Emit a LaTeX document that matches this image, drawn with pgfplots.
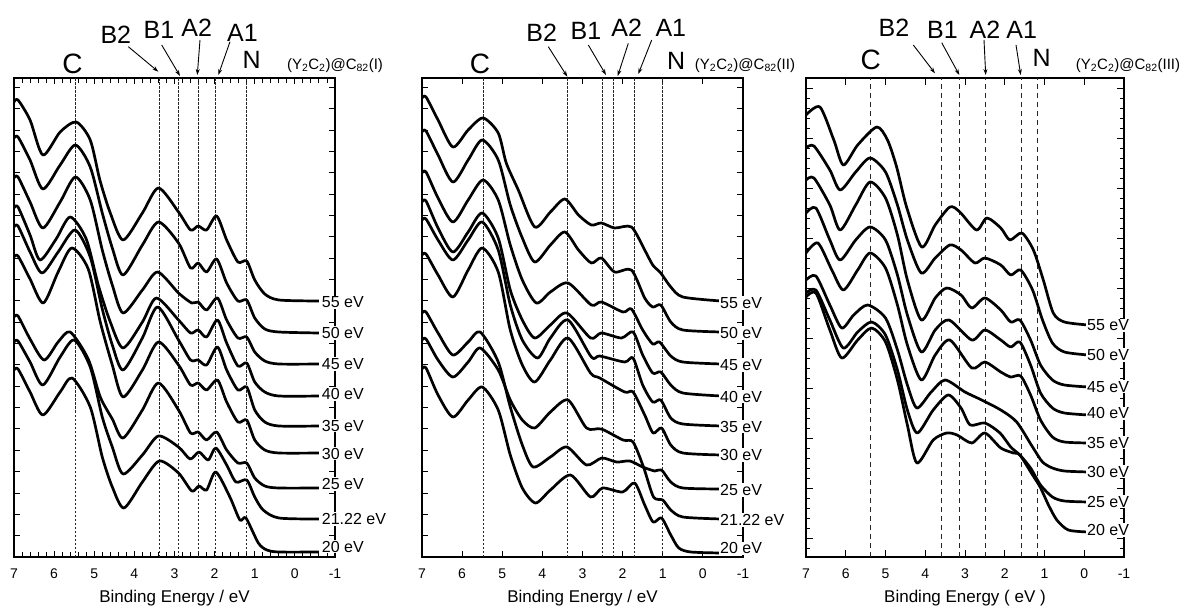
\documentclass[border=0pt]{standalone}
\usepackage{fontspec}
\setmainfont{Liberation Sans}
\usepackage{pgfplots}
\pgfplotsset{compat=1.18}
\usetikzlibrary{arrows.meta}

% y = intensity in arbitrary units (curves offset), x = binding energy in eV
\pgfplotsset{
  pes/.style={
    scale only axis, width=321pt, height=479pt, anchor=south west,
    xmin=-1, xmax=7, x dir=reverse, ymin=0, ymax=479,
    xtick={-1,0,...,7}, xticklabels={-1,0,1,2,3,4,5,6,7},
    yticklabels={},
    tick align=inside,
    major tick length=6pt, minor tick length=5pt,
    tick style={black, line width=0.9pt},
    axis line style={line width=1.5pt},
    xticklabel style={font=\fontsize{14}{14}\selectfont, anchor=base, yshift=-21pt},
    xlabel style={font=\fontsize{17}{17}\selectfont, at={(axis description cs:0.5,-0.096)}, anchor=base},
  },
  spec/.style={black, line width=2.7pt, smooth, tension=0.45, line join=round},
  vref/.style={black!85, line width=0.8pt, dash pattern=on 2.5pt off 1.5pt},
  vref3/.style={black!85, line width=1pt, dash pattern=on 5pt off 4pt},
}
\tikzset{
  elab/.style={anchor=west, fill=white, inner sep=1pt, font=\fontsize{16}{16}\selectfont},
  pk/.style={anchor=base, inner sep=0pt, font=\fontsize{25}{25}\selectfont},
  pkc/.style={anchor=base, inner sep=0pt, font=\fontsize{28}{28}\selectfont},
  pkn/.style={anchor=base, inner sep=0pt, font=\fontsize{25}{25}\selectfont},
  cmp/.style={anchor=base, inner sep=0pt, font=\fontsize{15}{15}\selectfont},
  arr/.style={line width=0.9pt, -{Stealth[length=6pt,width=4pt]}},
}

\begin{document}
\begin{tikzpicture}
\path[use as bounding box] (0pt,0pt) rectangle (1185pt,608pt);

% ---------------- panel I ----------------
\begin{axis}[pes, at={(14pt,51pt)}, minor x tick num=4,
  ytick={0,21.35,...,479}, xlabel={Binding Energy / eV}]
\pgfplotsinvokeforeach{5.48,3.38,2.9,2.4,1.97,1.2}{\addplot[vref] coordinates {(#1,0) (#1,479)};}
% 55 eV
\addplot[spec] coordinates {(7.0,455) (6.9,457) (6.6,437) (6.28,402) (5.85,425) (5.45,435) (5.1,417) (4.86,377) (4.6,344) (4.28,317) (3.8,344) (3.4,369) (2.9,345) (2.6,327) (2.41,331) (2.2,327) (1.95,341) (1.7,317) (1.42,295) (1.2,296) (1.0,277) (0.75,263) (0.4,257) (-0.6,256)};
% 50 eV
\addplot[spec] coordinates {(7.0,419) (6.9,420) (6.6,397) (6.28,368) (5.85,392) (5.47,412) (5.1,390) (4.8,344) (4.55,309) (4.28,282) (3.8,312) (3.4,335) (2.9,314) (2.6,289) (2.41,294) (2.2,285) (1.95,298) (1.7,274) (1.42,256) (1.2,257) (1.0,239) (0.75,228) (0.4,225) (-0.6,224)};
% 45 eV
\addplot[spec] coordinates {(7.0,379) (6.9,380) (6.6,355) (6.28,329) (5.85,355) (5.47,380) (5.1,357) (4.8,307) (4.55,272) (4.28,244) (3.8,267) (3.42,285) (2.9,264) (2.57,254) (2.41,255) (2.2,247) (1.93,259) (1.7,237) (1.42,219) (1.2,220) (1.0,205) (0.75,196) (0.4,193) (-0.6,193)};
% 40 eV
\addplot[spec] coordinates {(7.0,349) (6.9,350) (6.6,322) (6.35,297) (5.95,318) (5.6,340) (5.2,318) (4.9,272) (4.6,235) (4.28,209) (3.8,235) (3.45,259) (2.9,237) (2.6,224) (2.41,227) (2.2,220) (1.93,237) (1.7,214) (1.42,191) (1.2,194) (1.0,175) (0.75,165) (0.4,161) (-0.6,161)};
% 35 eV
\addplot[spec] coordinates {(7.0,330) (6.9,331) (6.6,305) (6.3,284) (5.9,305) (5.48,327) (5.1,300) (4.8,248) (4.55,212) (4.28,187) (3.8,219) (3.42,250) (2.9,217) (2.6,197) (2.41,197) (2.2,192) (1.93,210) (1.7,187) (1.42,167) (1.2,170) (1.0,147) (0.75,135) (0.4,131) (-0.6,131)};
% 30 eV
\addplot[spec] coordinates {(7.0,300) (6.9,301) (6.6,278) (6.27,254) (5.9,285) (5.56,309) (5.15,288) (4.85,235) (4.55,192) (4.28,160) (3.8,187) (3.4,215) (2.9,192) (2.6,172) (2.41,174) (2.2,167) (1.93,177) (1.7,155) (1.42,135) (1.2,137) (1.0,117) (0.75,107) (0.4,104) (-0.6,104)};
% 25 eV
\addplot[spec] coordinates {(7.0,240) (6.9,241) (6.6,218) (6.25,197) (5.9,215) (5.6,225) (5.15,198) (4.85,160) (4.55,138) (4.28,119) (3.8,147) (3.4,174) (2.9,147) (2.6,124) (2.41,125) (2.2,117) (1.95,125) (1.7,107) (1.42,94) (1.2,94) (1.0,79) (0.75,71) (0.4,69) (-0.6,69)};
% 21.22 eV
\addplot[spec] coordinates {(7.0,215) (6.9,216) (6.6,195) (6.28,172) (5.85,200) (5.5,217) (5.1,190) (4.8,140) (4.55,110) (4.28,83) (3.8,102) (3.4,121) (2.9,110) (2.61,98) (2.39,105) (2.16,97) (1.97,109) (1.7,92) (1.47,75) (1.2,77) (1.0,60) (0.79,47) (0.4,39) (-0.6,38)};
% 20 eV
\addplot[spec] coordinates {(7.0,187) (6.9,188) (6.6,165) (6.28,142) (5.85,165) (5.55,179) (5.1,150) (4.8,100) (4.55,70) (4.26,49) (3.8,75) (3.38,96) (2.9,84) (2.57,66) (2.39,71) (2.2,67) (1.97,85) (1.62,60) (1.37,37) (1.22,39) (0.91,14) (0.7,7) (0.4,5) (-0.6,5)};
\end{axis}

% ---------------- panel II ----------------
\begin{axis}[pes, at={(422pt,51pt)},
  ytick={0,21.35,...,479}, xlabel={Binding Energy / eV}]
\pgfplotsinvokeforeach{5.47,3.37,2.5,2.24,1.71,1.02}{\addplot[vref] coordinates {(#1,0) (#1,479)};}
\addplot[spec] coordinates {(7.0,459) (6.9,460) (6.6,437) (6.23,410) (5.85,427) (5.48,439) (5.1,424) (4.9,394) (4.6,367) (4.19,330) (3.8,345) (3.44,358) (3.1,342) (2.78,332) (2.53,334) (2.2,329) (1.78,330) (1.45,307) (1.25,292) (1.05,284) (0.8,270) (0.5,260) (-0.45,256)};
\addplot[spec] coordinates {(7.0,425) (6.9,426) (6.6,402) (6.23,375) (5.85,397) (5.5,417) (5.1,397) (4.8,352) (4.5,319) (4.19,295) (3.8,312) (3.44,325) (3.1,307) (2.78,294) (2.53,299) (2.2,285) (1.78,287) (1.45,259) (1.25,250) (1.05,252) (0.8,235) (0.5,227) (-0.45,225)};
\addplot[spec] coordinates {(7.0,384) (6.9,385) (6.6,359) (6.23,335) (5.85,357) (5.48,377) (5.1,357) (4.8,312) (4.5,277) (4.15,254) (3.8,265) (3.36,274) (2.78,252) (2.53,255) (1.99,245) (1.78,248) (1.5,227) (1.25,213) (1.08,215) (0.8,201) (0.5,195) (-0.45,193)};
\addplot[spec] coordinates {(7.0,355) (6.9,356) (6.6,329) (6.23,305) (5.85,325) (5.5,344) (5.1,319) (4.8,267) (4.5,237) (4.19,219) (3.8,232) (3.39,244) (2.8,219) (2.53,224) (2.03,219) (1.74,225) (1.5,202) (1.25,184) (1.05,185) (0.8,172) (0.5,164) (-0.45,161)};
\addplot[spec] coordinates {(7.0,337) (6.9,338) (6.6,317) (6.23,297) (5.85,317) (5.5,335) (5.1,307) (4.8,252) (4.5,217) (4.12,199) (3.8,219) (3.36,237) (2.78,200) (2.57,201) (1.95,195) (1.74,199) (1.5,172) (1.25,155) (1.05,157) (0.8,139) (0.5,133) (-0.45,131)};
\addplot[spec] coordinates {(7.0,302) (6.9,303) (6.6,282) (6.23,260) (5.85,287) (5.5,309) (5.1,285) (4.8,227) (4.5,192) (4.19,175) (3.8,197) (3.36,219) (2.8,184) (2.57,179) (1.95,165) (1.74,165) (1.45,142) (1.24,124) (1.03,129) (0.8,112) (0.5,104) (-0.45,102)};
\addplot[spec] coordinates {(7.0,244) (6.9,245) (6.6,224) (6.23,202) (5.85,215) (5.55,225) (5.1,195) (4.8,150) (4.5,112) (4.23,90) (3.8,100) (3.39,110) (2.9,92) (2.52,99) (2.15,95) (1.82,96) (1.5,90) (1.2,86) (1.03,87) (0.8,75) (0.5,69) (-0.45,68)};
\addplot[spec] coordinates {(7.0,217) (6.9,218) (6.6,197) (6.23,180) (5.85,195) (5.55,209) (5.1,187) (4.8,157) (4.5,137) (4.19,129) (3.8,145) (3.36,157) (2.9,129) (2.53,128) (1.99,117) (1.74,115) (1.48,90) (1.23,60) (1.0,57) (0.8,47) (0.5,40) (-0.45,38)};
\addplot[spec] coordinates {(7.0,188) (6.9,189) (6.6,162) (6.23,140) (5.85,157) (5.5,170) (5.1,147) (4.8,102) (4.5,69) (4.17,54) (3.8,67) (3.3,82) (2.8,60) (2.5,69) (2.0,65) (1.7,74) (1.45,52) (1.24,35) (1.03,39) (0.8,22) (0.6,9) (0.3,5) (-0.45,4)};
\end{axis}

% ---------------- panel III ----------------
\begin{axis}[pes, at={(806pt,51pt)}, width=318pt,
  ytick={18.7,68.7,...,470}, minor ytick={8.7,18.7,...,479},
  major tick length=7pt, minor tick length=4pt,
  xlabel={Binding Energy ( eV )}]
\pgfplotsinvokeforeach{5.37,3.59,3.15,2.48,1.57,1.18}{\addplot[vref3] coordinates {(#1,0) (#1,479)};}
\addplot[spec] coordinates {(7.0,442) (6.65,450) (6.3,417) (6.06,392) (5.7,412) (5.22,430) (4.95,417) (4.72,390) (4.47,350) (4.09,310) (3.75,332) (3.38,350) (3.13,345) (2.71,327) (2.45,339) (2.1,329) (1.87,317) (1.57,324) (1.28,307) (1.03,277) (0.78,244) (0.5,235) (-0.1,232)};
\addplot[spec] coordinates {(7.0,409) (6.8,411) (6.4,387) (6.14,367) (5.75,385) (5.39,399) (5.0,385) (4.7,352) (4.45,317) (4.1,284) (3.75,299) (3.38,312) (3.1,307) (2.75,294) (2.5,299) (2.1,292) (1.85,282) (1.6,287) (1.3,267) (1.05,237) (0.8,214) (0.5,205) (-0.1,202)};
\addplot[spec] coordinates {(7.0,377) (6.8,379) (6.4,352) (6.14,327) (5.75,352) (5.39,375) (5.0,359) (4.7,322) (4.45,277) (4.1,237) (3.75,259) (3.46,269) (3.1,262) (2.83,249) (2.5,259) (2.1,247) (1.85,235) (1.62,237) (1.35,217) (1.1,192) (0.8,177) (0.5,172) (-0.1,170)};
\addplot[spec] coordinates {(7.0,344) (6.75,349) (6.4,317) (6.14,297) (5.75,317) (5.39,330) (5.0,317) (4.7,282) (4.45,242) (4.1,205) (3.75,227) (3.4,237) (2.83,217) (2.5,227) (2.1,217) (1.85,210) (1.62,215) (1.35,192) (1.1,164) (0.8,149) (0.5,144) (-0.1,142)};
\addplot[spec] coordinates {(7.0,304) (6.7,314) (6.35,287) (6.06,267) (5.7,287) (5.39,304) (5.0,289) (4.7,252) (4.45,212) (4.1,177) (3.75,202) (3.38,217) (2.83,189) (2.5,195) (2.1,185) (1.85,180) (1.6,181) (1.35,162) (1.1,137) (0.8,120) (0.5,115) (-0.1,114)};
\addplot[spec] coordinates {(7.0,277) (6.75,281) (6.4,252) (6.1,229) (5.8,242) (5.45,252) (5.0,239) (4.7,207) (4.45,172) (4.21,149) (3.85,165) (3.5,177) (3.0,165) (2.58,157) (2.1,147) (1.7,135) (1.3,110) (1.05,95) (0.8,89) (0.5,86) (-0.1,85)};
\addplot[spec] coordinates {(7.0,264) (6.75,267) (6.4,237) (6.06,209) (5.7,225) (5.35,235) (5.0,222) (4.7,187) (4.45,147) (4.2,124) (3.8,147) (3.42,162) (3.1,149) (2.87,132) (2.5,134) (2.12,124) (1.85,110) (1.62,102) (1.35,89) (1.1,72) (0.8,60) (0.5,56) (-0.1,55)};
\addplot[spec] coordinates {(7.0,260) (6.75,264) (6.4,227) (6.1,199) (5.7,217) (5.35,229) (5.0,215) (4.7,177) (4.45,132) (4.21,94) (3.8,117) (3.46,124) (3.2,122) (2.83,114) (2.5,124) (2.1,109) (1.78,104) (1.62,102) (1.3,82) (1.11,70) (0.9,52) (0.69,37) (0.4,27) (-0.1,25)};
\end{axis}

% photon-energy labels
\foreach \t/\y in {55/305.5, 50/275, 45/244, 40/214, 35/182.5, 30/154.5, 25/124, 21.22/89, 20/61.3}
  \node[elab] at (320.7pt,\y pt) {\t\ eV};
\foreach \t/\y in {55/305, 50/275, 45/243, 40/211.3, 35/181.3, 30/153, 25/118, 21.22/88, 20/59.7}
  \node[elab] at (719pt,\y pt) {\t\ eV};
\foreach \t/\y in {55/282.7, 50/253, 45/221.3, 40/194.7, 35/165.5, 30/136.3, 25/106.3, 20/78}
  \node[elab] at (1086pt,\y pt) {\t\ eV};

% peak labels panel I
\node[pkc] at (72.5pt,534pt) {C};
\node[pk] at (115.8pt,564.7pt) {B2};
\node[pk] at (159pt,569.7pt) {B1};
\node[pk] at (196.7pt,571.3pt) {A2};
\node[pk] at (242.5pt,566.3pt) {A1};
\node[pkn] at (251.7pt,539.7pt) {N};
\draw[arr] (128.3pt,561.3pt) -- (158.3pt,536.3pt);
\draw[arr] (161.7pt,563pt) -- (180pt,532pt);
\draw[arr] (200pt,568pt) -- (197.3pt,533pt);
\draw[arr] (230pt,566.3pt) -- (218.3pt,533pt);
\node[cmp] at (335pt,538.5pt) {(Y\textsubscript{2}C\textsubscript{2})@C\textsubscript{82}(I)};

% peak labels panel II
\node[pkc] at (480pt,534pt) {C};
\node[pk] at (541.7pt,566.3pt) {B2};
\node[pk] at (586pt,568pt) {B1};
\node[pk] at (626.7pt,571.3pt) {A2};
\node[pk] at (670.8pt,571.3pt) {A1};
\node[pkn] at (676.2pt,538pt) {N};
\draw[arr] (548.3pt,561.3pt) -- (567.3pt,531.3pt);
\draw[arr] (588.3pt,563pt) -- (606pt,533pt);
\draw[arr] (628.3pt,564.7pt) -- (617.7pt,532pt);
\draw[arr] (651.7pt,568pt) -- (638.3pt,534pt);
\node[cmp] at (745pt,538.5pt) {(Y\textsubscript{2}C\textsubscript{2})@C\textsubscript{82}(II)};

% peak labels panel III
\node[pkc] at (870.8pt,538pt) {C};
\node[pk] at (894pt,571.3pt) {B2};
\node[pk] at (942.5pt,569.7pt) {B1};
\node[pk] at (985pt,569.7pt) {A2};
\node[pk] at (1021.7pt,569.7pt) {A1};
\node[pkn] at (1041.7pt,541.3pt) {N};
\draw[arr] (913.3pt,563pt) -- (935pt,534.7pt);
\draw[arr] (941.7pt,565.3pt) -- (959.3pt,533pt);
\draw[arr] (984pt,568pt) -- (985.7pt,533pt);
\draw[arr] (1016pt,563pt) -- (1020.7pt,533pt);
\node[cmp] at (1128pt,538.5pt) {(Y\textsubscript{2}C\textsubscript{2})@C\textsubscript{82}(III)};
\end{tikzpicture}
\end{document}
